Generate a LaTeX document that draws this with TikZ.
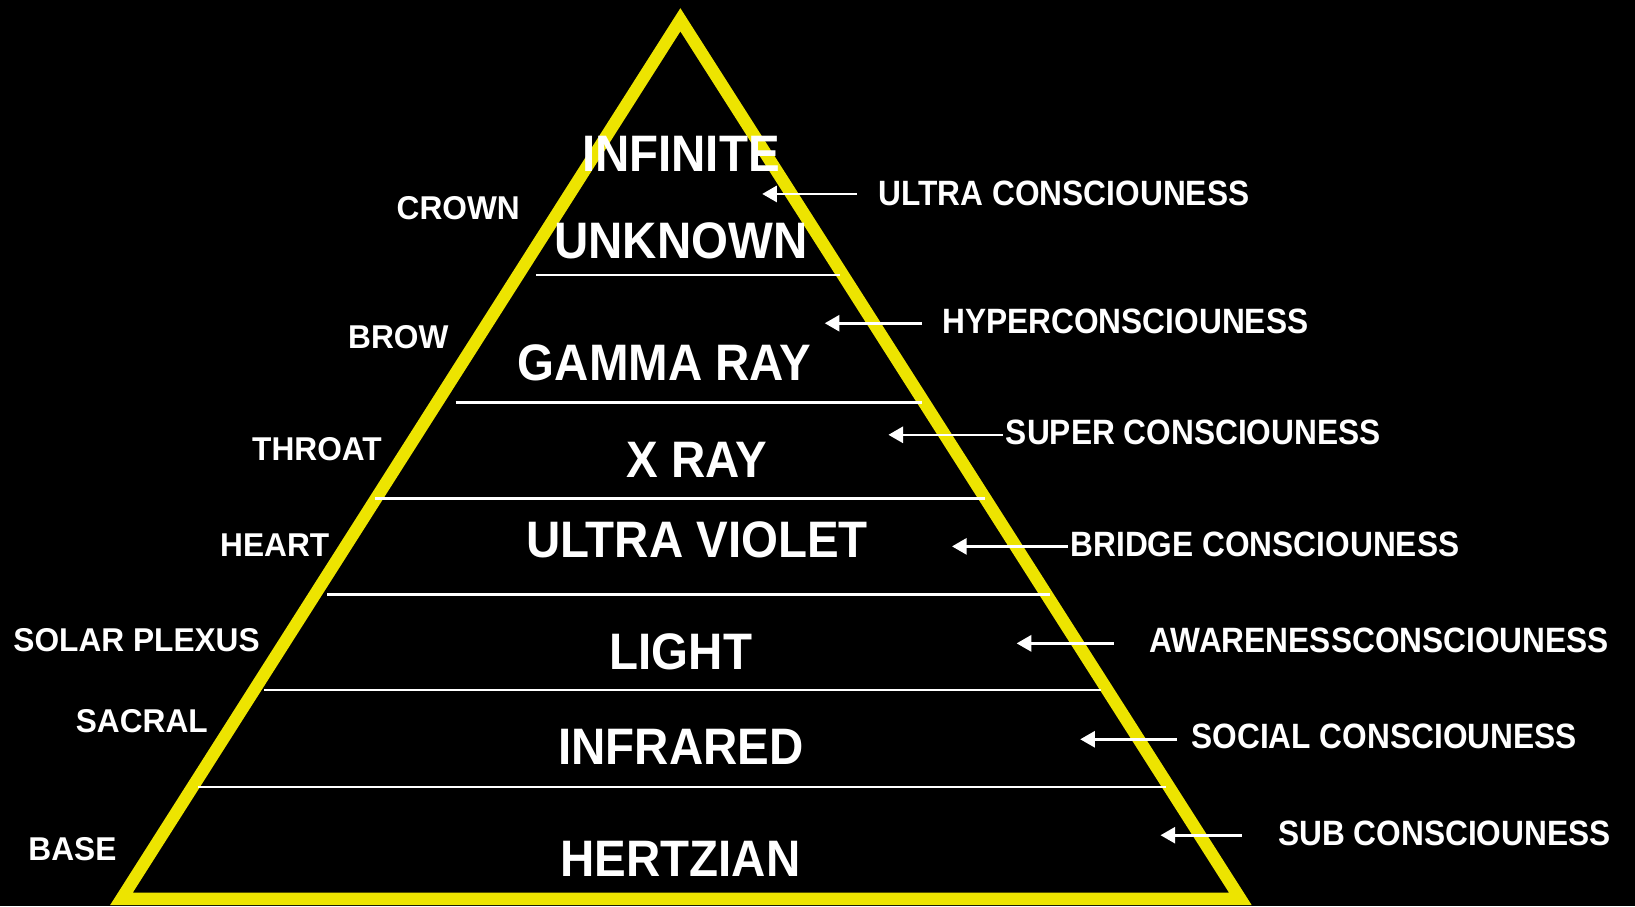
\documentclass[tikz,border=0pt]{standalone}
\usepackage{fontspec}
\setmainfont{Liberation Sans}
\newfontfamily\bigfont[FakeStretch=0.925]{Liberation Sans}
\newfontfamily\rightfont[FakeStretch=0.9]{Liberation Sans}
\newfontfamily\leftfont[FakeStretch=0.96]{Liberation Sans}
\usetikzlibrary{arrows.meta}
\definecolor{pyryellow}{RGB}{237,228,0}
\begin{document}
\begin{tikzpicture}[x=0.1mm,y=-0.1mm,
  big/.style={text=white, font=\bigfont\bfseries\fontsize{14}{14}\selectfont, inner sep=0pt},
  rlabel/.style={text=white, font=\rightfont\bfseries\fontsize{9.6}{9.6}\selectfont, inner sep=0pt, anchor=west},
  llabel/.style={text=white, font=\leftfont\bfseries\fontsize{9}{9}\selectfont, inner sep=0pt},
  divider/.style={draw=white, line width=0.65pt},
  pointer/.style={draw=white, line width=0.7pt, -{Triangle[length=4pt,width=4.4pt]}},
  frame/.style={draw=pyryellow, line width=3.4pt, line join=miter}]
\fill[black] (0,0) rectangle (1568,869);
\useasboundingbox (0,0) rectangle (1568,869);

% pyramid outline
\coordinate (apex) at (652.5,19);
\coordinate (bl) at (116.5,862);
\coordinate (br) at (1189.5,862);
\draw[frame] (apex) -- (br) -- (bl) -- cycle;

% dividers
\coordinate (d1l) at (514,264);  \coordinate (d1r) at (806,264);
\coordinate (d2l) at (437,386);  \coordinate (d2r) at (884,386);
\coordinate (d3l) at (360,478);  \coordinate (d3r) at (945,478);
\coordinate (d4l) at (314,570);  \coordinate (d4r) at (1007,570);
\coordinate (d5l) at (253,662);  \coordinate (d5r) at (1056,662);
\coordinate (d6l) at (190,755);  \coordinate (d6r) at (1118,755);
\draw[divider] (d1l) -- (d1r);
\draw[divider] (d2l) -- (d2r);
\draw[divider] (d3l) -- (d3r);
\draw[divider] (d4l) -- (d4r);
\draw[divider] (d5l) -- (d5r);
\draw[divider] (d6l) -- (d6r);

% level names
\node[big] (infinite) at (653,148) {INFINITE};
\node[big] (unknown) at (653,231) {UNKNOWN};
\node[big] (gamma) at (637.5,348) {GAMMA RAY};
\node[big] (xray) at (668,441) {X RAY};
\node[big] (uv) at (668.5,518) {ULTRA VIOLET};
\node[big] (light) at (653,625) {LIGHT};
\node[big] (infrared) at (653,716) {INFRARED};
\node[big] (hertz) at (652.5,824) {HERTZIAN};

% chakra labels
\node[llabel] (crown) at (439.5,200) {CROWN};
\node[llabel] (brow) at (382,323) {BROW};
\node[llabel] (throat) at (304,431) {THROAT};
\node[llabel] (heart) at (263.5,523) {HEART};
\node[llabel] (solar) at (131,614) {SOLAR PLEXUS};
\node[llabel] (sacral) at (136,692) {SACRAL};
\node[llabel] (base) at (69.5,814) {BASE};

% consciousness labels
\node[rlabel] (ultra) at (842,185) {ULTRA CONSCIOUNESS};
\node[rlabel] (hyper) at (903,308) {HYPERCONSCIOUNESS};
\node[rlabel] (super) at (964,415) {SUPER CONSCIOUNESS};
\node[rlabel] (bridge) at (1026,522) {BRIDGE CONSCIOUNESS};
\node[rlabel] (aware) at (1102,614) {AWARENESSCONSCIOUNESS};
\node[rlabel] (social) at (1142,706) {SOCIAL CONSCIOUNESS};
\node[rlabel] (sub) at (1225,799) {SUB CONSCIOUNESS};

% arrows
\coordinate (a1t) at (822,186);  \coordinate (a1h) at (731,186);
\coordinate (a2t) at (884,310);  \coordinate (a2h) at (791,310);
\coordinate (a3t) at (962,417);  \coordinate (a3h) at (852,417);
\coordinate (a4t) at (1024,524); \coordinate (a4h) at (913,524);
\coordinate (a5t) at (1068,617); \coordinate (a5h) at (975,617);
\coordinate (a6t) at (1129,709); \coordinate (a6h) at (1036,709);
\coordinate (a7t) at (1191,801); \coordinate (a7h) at (1113,801);
\draw[pointer] (a1t) -- (a1h);
\draw[pointer] (a2t) -- (a2h);
\draw[pointer] (a3t) -- (a3h);
\draw[pointer] (a4t) -- (a4h);
\draw[pointer] (a5t) -- (a5h);
\draw[pointer] (a6t) -- (a6h);
\draw[pointer] (a7t) -- (a7h);
\end{tikzpicture}
\end{document}
